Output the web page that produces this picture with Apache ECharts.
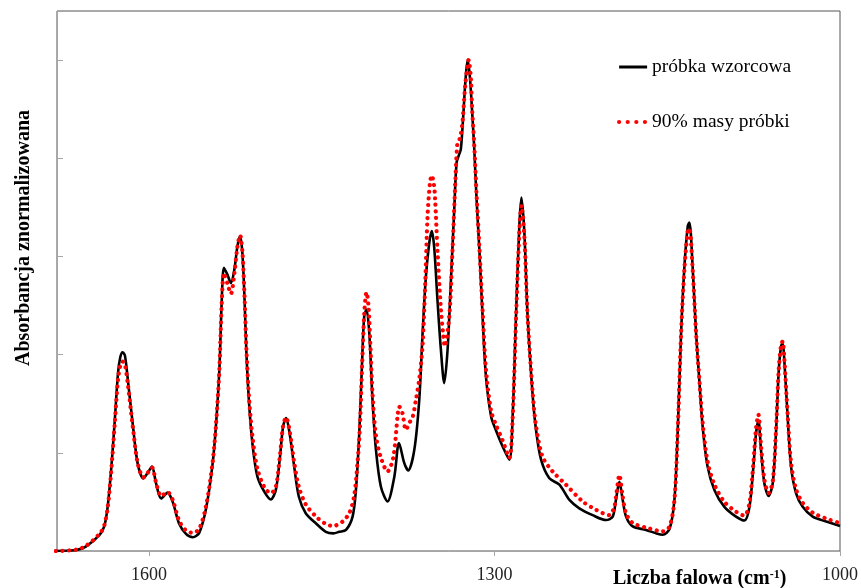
<!DOCTYPE html>
<html>
<head>
<meta charset="utf-8">
<script src="https://cdn.jsdelivr.net/npm/echarts@6/dist/echarts.min.js"></script>
<style>html,body{margin:0;padding:0;background:#fff}#c{width:861px;height:588px}</style>
</head>
<body>
<div id="c"></div>
<script>
// Wavenumbers (cm-1) and normalized absorbance
var waveRef = [1681,1670,1663,1655,1643,1639,1636,1633,1630,1627,1625,1623,1621,1618.5,1614,1610,1605,1601,1597.5,1594,1589.5,1584,1579.5,1574,1568,1562,1556.5,1550.5,1545,1542,1539,1537,1535,1532,1529,1526,1523.3,1521,1519,1517,1515.5,1513,1510,1506,1500,1494.3,1490,1486.6,1483.6,1481,1478,1474,1470,1464,1455,1446.5,1440,1435,1429,1423.3,1420.4,1417.5,1415.2,1413.2,1411.2,1408.8,1406,1403,1398.7,1393,1387,1383,1378.4,1375,1369.7,1365.4,1362.5,1359.6,1356.7,1354.5,1352.4,1349.6,1346.6,1343.7,1340.8,1338,1335,1333,1331.2,1329.3,1327.2,1325.4,1323.4,1321.5,1319.6,1317.6,1315.6,1313.2,1310.4,1307.5,1303,1299,1293,1287.2,1284.3,1281.4,1278.5,1276.7,1274.1,1271.3,1267,1264,1259.6,1252.4,1243.7,1235,1226.4,1214.8,1203.2,1197.4,1194.6,1191.6,1188.7,1185.8,1180,1168.4,1159.7,1154,1148,1143.8,1141,1138,1135.1,1132.2,1130.8,1128,1125,1122,1119.3,1115,1109,1100.4,1090.3,1083,1078.6,1075.2,1072.9,1070.9,1068.6,1065.7,1062,1058.4,1055.6,1053.3,1051.2,1049.8,1048.4,1045.5,1042.5,1038.2,1032.4,1023.7,1012,1000];
var absRef = [0.000,0.001,0.002,0.009,0.033,0.050,0.090,0.165,0.260,0.363,0.395,0.405,0.398,0.349,0.254,0.179,0.148,0.160,0.172,0.138,0.107,0.119,0.100,0.056,0.035,0.028,0.037,0.087,0.175,0.254,0.369,0.505,0.577,0.563,0.546,0.573,0.621,0.641,0.607,0.505,0.403,0.294,0.213,0.152,0.121,0.105,0.124,0.186,0.254,0.271,0.240,0.172,0.111,0.077,0.056,0.039,0.036,0.039,0.043,0.070,0.124,0.240,0.376,0.478,0.492,0.444,0.308,0.206,0.131,0.101,0.152,0.220,0.179,0.164,0.206,0.308,0.444,0.560,0.628,0.652,0.618,0.512,0.410,0.342,0.410,0.546,0.696,0.791,0.805,0.818,0.886,0.954,1.000,0.968,0.900,0.818,0.716,0.614,0.478,0.356,0.274,0.247,0.213,0.186,0.274,0.478,0.662,0.720,0.648,0.478,0.320,0.247,0.186,0.148,0.135,0.104,0.087,0.073,0.063,0.070,0.104,0.141,0.104,0.070,0.050,0.043,0.036,0.033,0.045,0.104,0.240,0.444,0.580,0.662,0.669,0.580,0.444,0.342,0.254,0.172,0.124,0.090,0.070,0.062,0.090,0.172,0.240,0.266,0.206,0.138,0.112,0.138,0.240,0.363,0.417,0.424,0.390,0.274,0.172,0.118,0.090,0.070,0.060,0.051];

var wave90 = [1681,1670,1663,1655,1643,1639,1636,1633,1630,1627,1625,1623,1621,1618.5,1614,1610,1605,1601,1597.5,1594,1589.5,1584,1579.5,1574,1568,1562,1556.5,1550.5,1545,1542,1539,1537,1535,1532,1529,1526,1523.3,1521,1519,1517,1515.5,1513,1510,1506,1500,1494.3,1490,1486.6,1483.6,1481,1478,1474,1470,1464,1455,1446.5,1440,1432,1426,1422,1419,1417,1415,1413,1411.2,1409.5,1408,1406,1403,1398.7,1393,1388,1384,1382.8,1380,1377,1374,1371,1368.3,1365.4,1362.5,1360.2,1358.2,1356.1,1354.5,1352.6,1351.6,1349.6,1346.6,1344.7,1343.2,1339.3,1336.5,1334.1,1332.2,1330.2,1328,1325.4,1322.5,1320.5,1319.6,1317.6,1315.6,1313.2,1310.4,1307.5,1303,1299,1293,1287.2,1284.3,1281.4,1278.5,1276.7,1274.1,1271.3,1267,1264,1258.3,1249.6,1238,1223.5,1211.9,1200.3,1196,1194,1191.6,1189,1186,1180,1165.5,1154,1148,1143.8,1141,1138,1135.1,1132.2,1130.8,1128,1125,1122,1119.3,1115,1109,1100.4,1090.3,1083,1078.6,1075.2,1072.9,1070.9,1068.6,1065.7,1062,1058.4,1055.6,1053.3,1051.2,1049.8,1048.4,1045.5,1042.5,1038.2,1032.4,1023.7,1012,1000];
var abs90 = [0.000,0.001,0.003,0.010,0.035,0.052,0.088,0.160,0.255,0.350,0.378,0.386,0.380,0.340,0.250,0.180,0.150,0.160,0.170,0.140,0.112,0.120,0.104,0.062,0.042,0.037,0.045,0.092,0.178,0.254,0.369,0.500,0.566,0.545,0.524,0.565,0.620,0.643,0.610,0.510,0.410,0.305,0.228,0.168,0.130,0.118,0.130,0.190,0.256,0.272,0.245,0.180,0.131,0.095,0.070,0.055,0.051,0.060,0.078,0.111,0.180,0.250,0.380,0.490,0.527,0.500,0.430,0.320,0.235,0.190,0.162,0.190,0.280,0.294,0.281,0.247,0.261,0.274,0.308,0.350,0.420,0.546,0.682,0.750,0.765,0.745,0.716,0.614,0.492,0.444,0.417,0.478,0.614,0.750,0.832,0.840,0.870,0.950,1.000,0.960,0.905,0.825,0.725,0.620,0.490,0.370,0.285,0.258,0.225,0.190,0.270,0.470,0.650,0.704,0.640,0.478,0.325,0.255,0.192,0.162,0.135,0.101,0.084,0.073,0.090,0.120,0.155,0.115,0.078,0.057,0.046,0.040,0.050,0.104,0.240,0.444,0.575,0.652,0.657,0.575,0.444,0.345,0.262,0.182,0.135,0.100,0.080,0.072,0.098,0.180,0.250,0.278,0.215,0.146,0.118,0.142,0.245,0.366,0.420,0.427,0.393,0.280,0.180,0.126,0.098,0.078,0.066,0.057];

var xTicks = [1000, 1300, 1600];
var seriesNames = ['próbka wzorcowa', '90% masy próbki'];

function zip(a, b) { return a.map(function (v, i) { return [v, b[i]]; }); }

var serif = 'Liberation Serif, Times New Roman, serif';
var chart = echarts.init(document.getElementById('c'), null, {renderer: 'canvas'});
chart.setOption({
  animation: false,
  backgroundColor: '#fff',
  grid: {left: 57, right: 21, top: 11, bottom: 37, show: true, borderColor: '#555', borderWidth: 1},
  title: {
    text: 'Liczba falowa (cm{sup|-1})',
    left: 608, top: 564,
    textStyle: {
      fontFamily: serif, fontWeight: 'bold', fontSize: 20, color: '#000',
      rich: {sup: {fontFamily: serif, fontWeight: 'bold', fontSize: 12, verticalAlign: 'top', color: '#000'}}
    }
  },
  graphic: [{
    type: 'text', x: 24, y: 238, rotation: Math.PI / 2,
    style: {text: 'Absorbancja znormalizowana', fontFamily: serif, fontWeight: 'bold', fontSize: 20,
      fill: '#000', align: 'center', verticalAlign: 'middle'}
  }],
  legend: {
    orient: 'vertical', left: 612, top: 52, itemWidth: 28, itemHeight: 14, itemGap: 35,
    textStyle: {fontFamily: serif, fontSize: 19.5, color: '#000'},
    itemStyle: {opacity: 0, borderWidth: 0},
    data: [
      {name: seriesNames[0], lineStyle: {color: '#000', width: 3, type: 'solid'}},
      {name: seriesNames[1], lineStyle: {color: '#ff0000', width: 4.2, type: [0.01, 8.6], cap: 'round'}}
    ]
  },
  xAxis: {
    type: 'value', inverse: true, min: 1000, max: 1680,
    axisLine: {show: true, lineStyle: {color: '#a6a6a6', width: 1}},
    axisTick: {show: true, inside: false, length: 5, customValues: xTicks, lineStyle: {color: '#a6a6a6'}},
    axisLabel: {customValues: xTicks, fontFamily: serif, fontSize: 18, color: '#222', margin: 15,
      formatter: function (v) { return String(v); }},
    splitLine: {show: false}
  },
  yAxis: {
    type: 'value', min: 0, max: 1.1, interval: 0.2,
    axisLine: {show: true, lineStyle: {color: '#a6a6a6', width: 1}},
    axisTick: {show: true, inside: true, length: 6, lineStyle: {color: '#a6a6a6'}},
    axisLabel: {show: false},
    splitLine: {show: false}
  },
  series: [
    {
      name: seriesNames[0], type: 'line', data: zip(waveRef, absRef), symbol: 'none', smooth: 0.3,
      lineStyle: {color: '#000', width: 2.6}, itemStyle: {color: '#000'}, z: 2
    },
    {
      name: seriesNames[1], type: 'line', data: zip(wave90, abs90), symbol: 'none', smooth: 0.3,
      lineStyle: {color: '#ff0000', width: 4.2, type: [0.01, 6.6], cap: 'round'}, itemStyle: {color: '#ff0000'}, z: 3
    }
  ]
});
</script>
</body>
</html>
